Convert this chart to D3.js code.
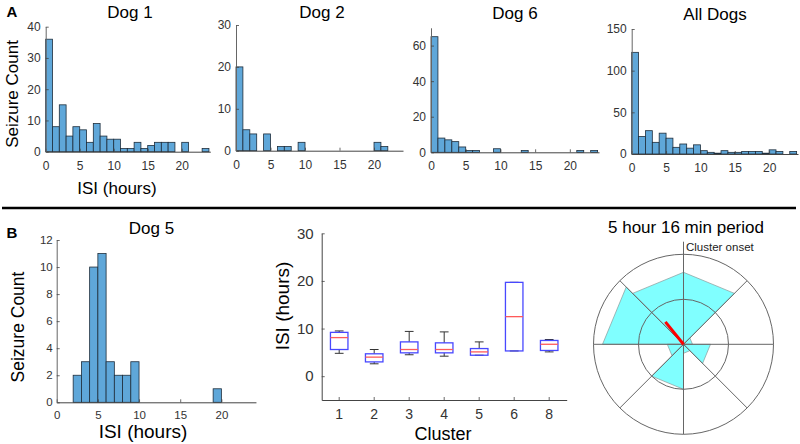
<!DOCTYPE html>
<html><head><meta charset="utf-8">
<script src="https://cdn.jsdelivr.net/npm/d3@7"></script>
<style>
body{margin:0;background:#fff}
svg{display:block}
text{font-family:"Liberation Sans",Arial,Helvetica,sans-serif}
</style>
</head><body>
<svg id="chart" width="800" height="444"></svg>
<script>
// ---------- DATA ----------
// Histogram counts in 1-hour ISI bins, 0..24 h
const dog1 = [36,8,15,5,8,7,3,9,5,4,4,1,1,3,1,2,3,3,3,0,3,0,0,1];
const dog2 = [20,5,4,0,4,0,1,1,0,2,0,0,0,0,0,0,0,0,0,0,2,1,0,0];
const dog6 = [65,8,7,6,3,1,1,0,0,2,0,0,0,1,0,0,0,0,0,0,0,1,0,1];
const allDogs = [122,21,28,14,25,19,8,12,7,11,4,2,1,4,2,2,3,3,3,1,5,3,0,3];
const dog5 = [0,0,2,3,10,11,3,2,2,3,0,0,0,0,0,0,0,0,0,1,0,0,0,0];
const isiTicks = [0,5,10,15,20];
const dog1Ticks = [0,10,20,30,40];
const dog2Ticks = [0,10,20,30];
const dog6Ticks = [0,20,40,60];
const allTicks = [0,50,100,150];
const dog5Ticks = [0,2,4,6,8,10,12];

// Box plot per cluster (hours)
const clusters = ["1","2","3","4","5","6","8"];
const whiskerLow  = [4.8,2.6,4.5,4.2,4.4,5.3,5.1];
const q1          = [5.6,3.0,4.9,4.9,4.4,5.3,5.4];
const medians     = [8.1,4.0,5.6,5.6,5.1,12.5,6.7];
const q3          = [9.2,4.7,7.2,7.0,5.8,19.7,7.5];
const whiskerHigh = [9.5,5.6,9.4,9.3,7.2,19.7,7.7];
const boxTicks = [0,10,20,30];

// Rose plot (angle clockwise from "Cluster onset", degrees)
const roseBinStart = [0,45,90,135,180,225,270,315];
const roseValues   = [8,1,3,1,5,1.8,9,8];
const roseMax = 10;
const meanAngle = 321;
const meanLength = 3.2;

// ---------- DRAW ----------
const svg = d3.select("#chart");
const barFill = "#5fa7d9", barStroke = "#1e2d3b";
const axisCol = "#444", tickTextCol = "#333";

function styleAxis(g, fs){
  g.select(".domain").attr("stroke", axisCol).attr("stroke-width",1);
  g.selectAll(".tick line").attr("stroke", axisCol).attr("stroke-width",0.8);
  g.selectAll(".tick text").attr("fill", tickTextCol).attr("font-size", fs).attr("font-family",'"Liberation Sans",Arial,sans-serif');
}

function hist(o){
  const g = svg.append("g");
  const x = d3.scaleLinear().domain([0,24.2]).range([o.left,o.right]);
  const y = d3.scaleLinear().domain([0,o.ymax]).range([o.base,o.top]);
  g.selectAll("rect").data(o.data.map((v,i)=>({v,i})).filter(d=>d.v>0)).join("rect")
    .attr("x",d=>x(d.i)).attr("width",d=>x(d.i+1)-x(d.i))
    .attr("y",d=>y(d.v)).attr("height",d=>y(0)-y(d.v))
    .attr("fill",barFill).attr("stroke",barStroke).attr("stroke-width",0.8);
  const gx = g.append("g").attr("transform",`translate(0,${o.base})`)
    .call(d3.axisBottom(x).tickValues(isiTicks).tickSizeInner(-3).tickSizeOuter(0).tickPadding(o.xpad));
  styleAxis(gx,o.fs);
  const gy = g.append("g").attr("transform",`translate(${o.left},0)`)
    .call(d3.axisLeft(y).tickValues(o.yTicks).tickSizeInner(-3).tickSizeOuter(0).tickPadding(o.ypad));
  styleAxis(gy,o.fs);
  gy.select(".domain").attr("stroke","#666");
  return {x,y};
}

function label(txt,x,y,fs,opts={}){
  const t = svg.append("text").attr("x",x).attr("y",y).attr("dy","0.35em")
    .attr("text-anchor",opts.anchor||"middle").attr("font-size",fs)
    .attr("fill","#000").text(txt);
  if(opts.bold) t.attr("font-weight","bold");
  if(opts.rotate) t.attr("transform",`rotate(-90,${x},${y})`);
  return t;
}

// Panel A
hist({left:45.7,right:210.3,base:151.7,top:26.7,ymax:40,data:dog1,yTicks:dog1Ticks,fs:12,xpad:9.5,ypad:5});
hist({left:236,right:403,base:150.7,top:25,ymax:30,data:dog2,yTicks:dog2Ticks,fs:12,xpad:9.5,ypad:5});
hist({left:431,right:599,base:152.3,top:27.8,ymax:70,data:dog6,yTicks:dog6Ticks,fs:12,xpad:9.5,ypad:5});
hist({left:631.7,right:798,base:154,top:29,ymax:150,data:allDogs,yTicks:allTicks,fs:12,xpad:9.5,ypad:5});

label("A",12,12,15,{bold:true});
label("Dog 1",130,12,17);
label("Dog 2",322,12,17);
label("Dog 6",515,13,17);
label("All Dogs",715,14,17);
label("Seizure Count",12,94,17,{rotate:true});
label("ISI (hours)",117,188,17);

// separator
svg.append("line").attr("x1",2).attr("x2",796).attr("y1",208).attr("y2",208)
  .attr("stroke","#000").attr("stroke-width",2.5);

// Panel B - Dog 5
hist({left:56.7,right:56.7+24.3*8.2,base:402.3,top:240,ymax:12,data:dog5,yTicks:dog5Ticks,fs:11.5,xpad:8.7,ypad:4});
label("B",12,233,15,{bold:true});
label("Dog 5",151.5,228,17);
label("Seizure Count",18,327,17.5,{rotate:true});
label("ISI (hours)",143,431,19);

// Box plot
{
  const g = svg.append("g");
  const x = d3.scaleBand().domain(clusters).range([321.7,566.7]);
  const y = d3.scaleLinear().domain([-5,30]).range([400,233.3]);
  const bw = x.bandwidth()*0.5, cw = x.bandwidth()*0.25;
  const data = clusters.map((c,i)=>({c,lo:whiskerLow[i],q1:q1[i],med:medians[i],q3:q3[i],hi:whiskerHigh[i]}));
  const b = g.selectAll("g.box").data(data).join("g").attr("class","box")
    .attr("transform",d=>`translate(${x(d.c)+x.bandwidth()/2},0)`);
  // whiskers
  b.append("line").attr("x1",0).attr("x2",0).attr("y1",d=>y(d.q3)).attr("y2",d=>y(d.hi)).attr("stroke","#333").attr("stroke-width",1);
  b.append("line").attr("x1",0).attr("x2",0).attr("y1",d=>y(d.q1)).attr("y2",d=>y(d.lo)).attr("stroke","#333").attr("stroke-width",1);
  b.append("line").attr("x1",-cw/2).attr("x2",cw/2).attr("y1",d=>y(d.hi)).attr("y2",d=>y(d.hi)).attr("stroke","#333").attr("stroke-width",1);
  b.append("line").attr("x1",-cw/2).attr("x2",cw/2).attr("y1",d=>y(d.lo)).attr("y2",d=>y(d.lo)).attr("stroke","#333").attr("stroke-width",1);
  b.append("rect").attr("x",-bw/2).attr("width",bw).attr("y",d=>y(d.q3)).attr("height",d=>y(d.q1)-y(d.q3))
    .attr("fill","none").attr("stroke","#4848ff").attr("stroke-width",1.3);
  b.append("line").attr("x1",-bw/2).attr("x2",bw/2).attr("y1",d=>y(d.med)).attr("y2",d=>y(d.med)).attr("stroke","#ff5a5a").attr("stroke-width",1.3);
  const gx = g.append("g").attr("transform","translate(0,400)")
    .call(d3.axisBottom(x).tickSizeInner(-3).tickSizeOuter(0).tickPadding(9.5));
  styleAxis(gx,14);
  const gy = g.append("g").attr("transform","translate(321.7,0)")
    .call(d3.axisLeft(y).tickValues(boxTicks).tickSizeInner(-3).tickSizeOuter(0).tickPadding(8));
  styleAxis(gy,15);
  label("ISI (hours)",282,306,19,{rotate:true});
  label("Cluster",443,434,18);
}

// Rose plot
{
  const cx = 683.5, cy = 344.3, R = 90;
  const r = d3.scaleLinear().domain([0,roseMax]).range([0,R]);
  const pt = (v,deg)=>{const a=deg*Math.PI/180; return [cx + r(v)*Math.sin(a), cy - r(v)*Math.cos(a)];};
  const g = svg.append("g");
  let p = d3.path();
  roseBinStart.forEach((a,i)=>{
    const v = roseValues[i];
    const p1 = pt(v,a), p2 = pt(v,a+45);
    p.moveTo(cx,cy); p.lineTo(p1[0],p1[1]); p.lineTo(p2[0],p2[1]); p.closePath();
  });
  g.append("path").attr("d",p.toString()).attr("fill","#80ffff").attr("stroke","#8a9a9a").attr("stroke-width",0.7);
  [roseMax/2, roseMax].forEach(v=>{
    g.append("circle").attr("cx",cx).attr("cy",cy).attr("r",r(v)).attr("fill","none").attr("stroke","#666").attr("stroke-width",1);
  });
  [45,90,135].forEach(a=>{
    const p1 = pt(roseMax,a), p2 = pt(roseMax,a+180);
    g.append("line").attr("x1",p1[0]).attr("y1",p1[1]).attr("x2",p2[0]).attr("y2",p2[1]).attr("stroke","#666").attr("stroke-width",1);
  });
  const top = pt(roseMax*1.14,0), bot = pt(roseMax,180);
  g.append("line").attr("x1",top[0]).attr("y1",top[1]).attr("x2",bot[0]).attr("y2",bot[1]).attr("stroke","#666").attr("stroke-width",1);
  const m = pt(meanLength,meanAngle);
  g.append("line").attr("x1",cx).attr("y1",cy).attr("x2",m[0]).attr("y2",m[1]).attr("stroke","#ff0000").attr("stroke-width",3);
  label("Cluster onset",686,247,11.5,{anchor:"start"}).attr("fill","#222");
  label("5 hour 16 min period",686,227,17);
}
</script>
</body></html>
